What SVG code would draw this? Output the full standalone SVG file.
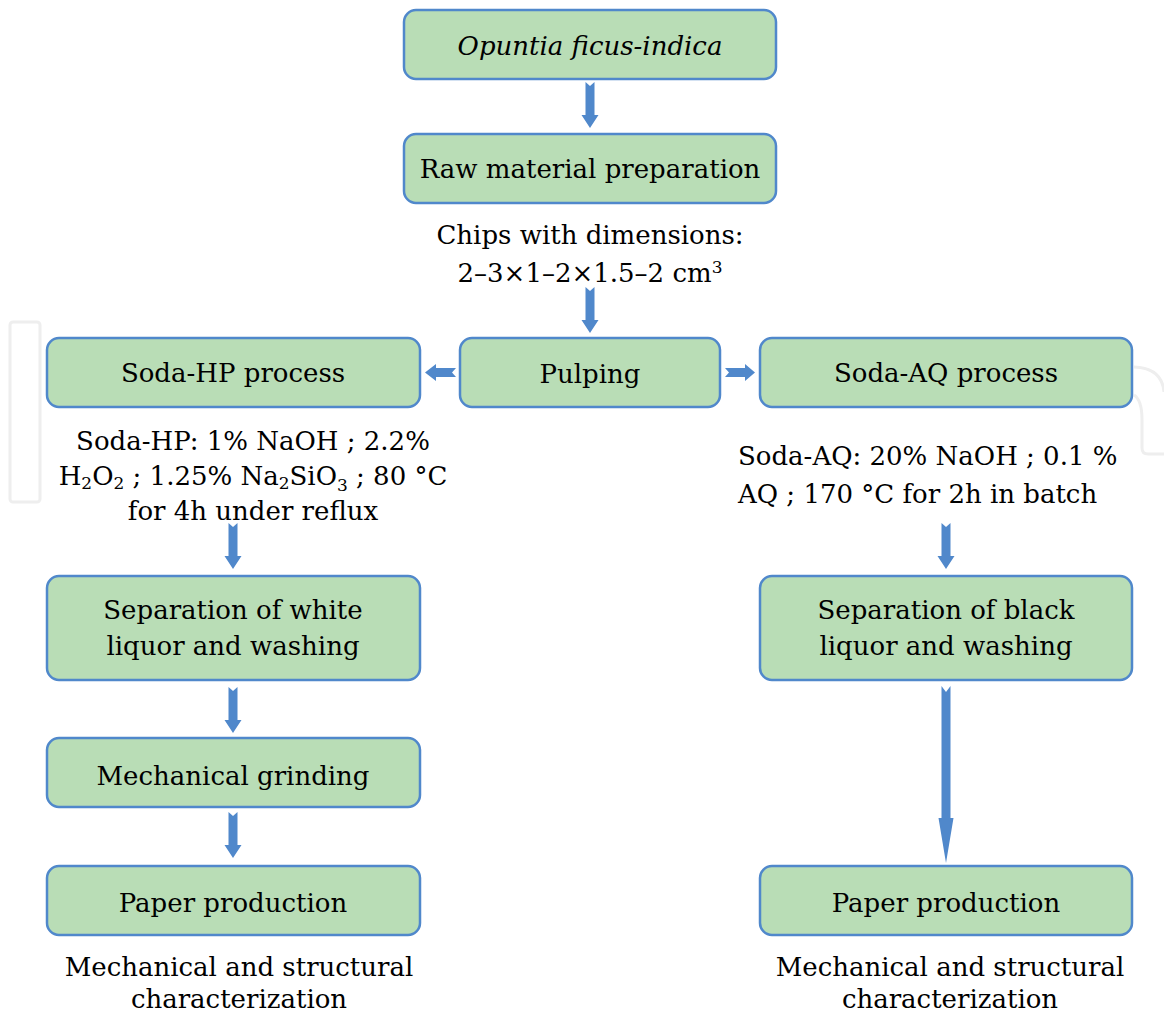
<svg xmlns="http://www.w3.org/2000/svg" width="1164" height="1015" viewBox="0 0 1164 1015">
<style>
.box{fill:#b9ddb6;stroke:#5088cb;stroke-width:2.5}
.t{font-family:"DejaVu Serif","Liberation Serif",serif;font-size:26px;fill:#000;text-anchor:middle}
.l{text-anchor:start}
.arr{fill:#5088cb}
.wm{fill:none;stroke:#eeeeee;stroke-width:3}
</style>
<g id="watermark">
<rect class="wm" x="10" y="322" width="30" height="180" rx="3"/>
<path class="wm" d="M1134,367 Q1162,368 1164,392"/>
<path class="wm" d="M1134,395 Q1142,400 1142,420 L1142,448 Q1142,454 1148,454 L1164,454"/>
</g>
<g id="connectors">
<polygon class="arr" points="585.5,82 590,86 594.5,82 594.5,115 598.5,115 590,128 581.5,115 585.5,115"/>
<polygon class="arr" points="585.5,287 590,291 594.5,287 594.5,320 598.5,320 590,333 581.5,320 585.5,320"/>
<polygon class="arr" points="456,368 452,372.5 456,377 436,377 436,381 425,372.5 436,364 436,368"/>
<polygon class="arr" points="725,368 729,372.5 725,377 745,377 745,381 755,372.5 745,364 745,368"/>
<polygon class="arr" points="228.5,523 233,527 237.5,523 237.5,556 241.5,556 233,569 224.5,556 228.5,556"/>
<polygon class="arr" points="228.5,687 233,691 237.5,687 237.5,720 241.5,720 233,733 224.5,720 228.5,720"/>
<polygon class="arr" points="228.5,812 233,816 237.5,812 237.5,845 241.5,845 233,858 224.5,845 228.5,845"/>
<polygon class="arr" points="941.5,523 946,527 950.5,523 950.5,556 954.5,556 946,569 937.5,556 941.5,556"/>
<polygon class="arr" points="941.5,686 946,692 950.5,686 950.5,818 953.5,818 946,863 938.5,818 941.5,818"/>
</g>
<g id="n1"><rect class="box" x="404" y="10" width="372" height="69" rx="12"/>
<text class="t" x="590" y="55" font-style="italic">Opuntia ficus-indica</text></g>
<g id="n2"><rect class="box" x="404" y="134" width="372" height="69" rx="12"/>
<text class="t" x="590" y="178">Raw material preparation</text></g>
<g id="chips"><text class="t" x="590" y="244">Chips with dimensions:</text>
<text class="t" x="590" y="282">2–3×1–2×1.5–2 cm<tspan font-size="17" dy="-9">3</tspan></text></g>
<g id="pulping"><rect class="box" x="460" y="338" width="260" height="69" rx="12"/>
<text class="t" x="590" y="383">Pulping</text></g>
<g id="sodahp"><rect class="box" x="47" y="338" width="373" height="69" rx="12"/>
<text class="t" x="233" y="382">Soda-HP process</text></g>
<g id="sodaaq"><rect class="box" x="760" y="338" width="372" height="69" rx="12"/>
<text class="t" x="946" y="382">Soda-AQ process</text></g>
<g id="hpcond">
<text class="t" x="253" y="450">Soda-HP: 1% NaOH ; 2.2%</text>
<text class="t" x="253" y="485">H<tspan font-size="17" dy="4">2</tspan><tspan dy="-4">O</tspan><tspan font-size="17" dy="4">2</tspan><tspan dy="-4"> ; 1.25% Na</tspan><tspan font-size="17" dy="4">2</tspan><tspan dy="-4">SiO</tspan><tspan font-size="17" dy="6">3</tspan><tspan dy="-6"> ; 80 °C</tspan></text>
<text class="t" x="253" y="520">for 4h under reflux</text>
</g>
<g id="aqcond">
<text class="t l" x="738" y="465">Soda-AQ: 20% NaOH ; 0.1 %</text>
<text class="t l" x="738" y="503">AQ ; 170 °C for 2h in batch</text>
</g>
<g id="sepwhite"><rect class="box" x="47" y="576" width="373" height="104" rx="12"/>
<text class="t" x="233" y="619">Separation of white</text>
<text class="t" x="233" y="655">liquor and washing</text></g>
<g id="sepblack"><rect class="box" x="760" y="576" width="372" height="104" rx="12"/>
<text class="t" x="946" y="619">Separation of black</text>
<text class="t" x="946" y="655">liquor and washing</text></g>
<g id="grind"><rect class="box" x="47" y="738" width="373" height="69" rx="12"/>
<text class="t" x="233" y="785">Mechanical grinding</text></g>
<g id="paper1"><rect class="box" x="47" y="866" width="373" height="69" rx="12"/>
<text class="t" x="233" y="912">Paper production</text></g>
<g id="paper2"><rect class="box" x="760" y="866" width="372" height="69" rx="12"/>
<text class="t" x="946" y="912">Paper production</text></g>
<g id="char1"><text class="t" x="239" y="976">Mechanical and structural</text>
<text class="t" x="239" y="1008">characterization</text></g>
<g id="char2"><text class="t" x="950" y="976">Mechanical and structural</text>
<text class="t" x="950" y="1008">characterization</text></g>
</svg>
